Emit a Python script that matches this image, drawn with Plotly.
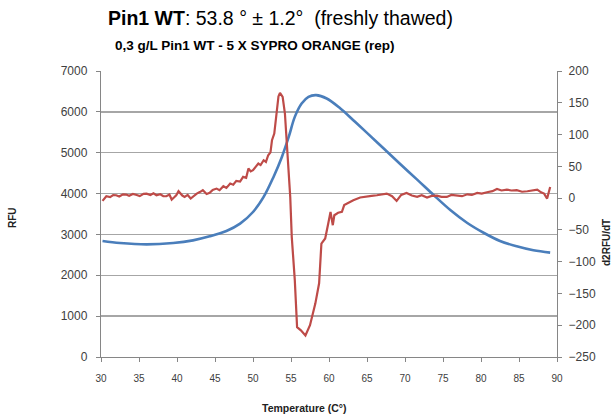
import plotly.graph_objects as go

# Blue curve: RFU (left axis)
rfu_temp = [30.2, 32.5, 36.0, 39.5, 42.1, 44.3, 46.5, 48.3, 50.0, 51.4, 52.7, 53.8, 54.7, 55.5,
            56.4, 57.3, 58.3, 59.7, 61.5, 63.2, 65.0, 67.2, 69.4, 71.6, 73.8, 76.0, 78.2, 80.4,
            82.5, 84.7, 86.9, 89.1]
rfu_vals = [2840, 2790, 2757, 2790, 2855, 2953, 3084, 3264, 3549, 3917, 4407, 4897, 5387, 5877,
            6204, 6368, 6409, 6327, 6082, 5796, 5486, 5102, 4718, 4342, 3958, 3591, 3280, 3035,
            2840, 2709, 2611, 2554]

# Red curve: d2RFU/dT (right axis)
d2_temp = [30.2, 30.5, 30.7, 31.2, 31.6, 32.0, 32.4, 32.9, 33.3, 33.7, 34.2, 34.7, 35.1, 35.6,
           36.0, 36.5, 36.9, 37.3, 37.8, 38.2, 38.6, 39.0, 39.3, 39.6, 39.9, 40.2, 40.4, 40.7,
           41.0, 41.4, 41.8, 42.2, 42.6, 43.0, 43.4, 43.9, 44.3, 44.7, 45.2, 45.6, 46.1, 46.5,
           47.0, 47.4, 47.8, 48.3, 48.7, 49.1, 49.4, 49.7, 50.0, 50.4, 50.7, 51.0, 51.4, 51.7,
           52.0, 52.3, 52.5, 52.8, 53.1, 53.35, 53.55, 53.75, 53.9, 54.2, 54.5, 54.9, 55.1, 55.5,
           55.8, 56.3, 56.9, 57.5, 58.2, 58.7, 59.0, 59.5, 59.9, 60.2, 60.5, 60.7, 61.2, 61.7,
           62.0, 62.4, 63.2, 64.1, 65.0, 65.6, 66.3, 67.0, 67.6, 68.3, 68.9, 69.5, 70.2, 70.9,
           71.6, 72.2, 72.9, 73.5, 74.2, 74.8, 75.5, 76.1, 76.8, 77.5, 78.2, 78.8, 79.5, 80.1,
           80.8, 81.5, 82.1, 82.7, 83.4, 84.0, 84.7, 85.4, 86.1, 86.7, 87.4, 87.9, 88.3, 88.7,
           89.1]
d2_vals = [-4.4, 1.0, 2.9, 1.5, 4.8, 4.5, 2.5, 6.0, 5.6, 3.8, 6.5, 5.0, 3.2, 6.8,
           7.1, 5.0, 7.5, 4.5, 6.0, 2.9, 2.9, 5.5, -2.3, 1.0, 4.5, 10.8, 8.0, 4.0,
           1.9, 5.0, -0.7, 4.0, 7.1, 9.5, 12.4, 6.5, 8.2, 13.0, 15.0, 12.5, 18.7, 16.0,
           22.9, 21.0, 27.1, 26.0, 33.4, 32.0, 46.5, 42.0, 43.9, 50.0, 54.4, 52.0, 59.6, 57.0,
           67.5, 72.0, 91.1, 101.6, 138.3, 160.0, 165.6, 163.0, 159.3, 133.1, 80.6, 1.9, -61.0, -129.0,
           -203.0, -208.0, -216.0, -200.0, -166.0, -134.0, -71.5, -63.6, -40.0, -21.6, -42.6, -26.9, -23.0, -21.6,
           -11.0, -8.5, -3.3, 1.0, 1.9, 3.5, 4.5, 6.0, 7.1, 3.0, -4.4, 5.0, 8.2, 4.0,
           1.9, 4.5, 0.8, 3.5, 4.0, 2.0, 1.9, 5.0, 4.5, 3.0, 6.0, 5.0, 8.2, 7.0,
           9.2, 11.0, 14.5, 12.0, 13.4, 12.0, 12.4, 10.0, 10.8, 12.5, 13.4, 9.0, 7.1, -0.7,
           17.6]

x_ticks = list(range(30, 95, 5))

BLUE = "#4A7EBB"
RED = "#BE4B48"
GRID = "#A6A6A6"
AXIS = "#868686"
FONT = "Liberation Sans, Arial, sans-serif"
YTICKFONT = dict(family=FONT, size=12, color="#404040")
XTICKFONT = dict(family=FONT, size=10, color="#404040")

L, R, T, B = 101, 58, 71, 62
PW = 615 - L - R
PH = 419 - T - B

fig = go.Figure()
fig.add_trace(go.Scatter(x=rfu_temp, y=rfu_vals, mode="lines", line=dict(color=BLUE, width=2.6, shape="spline"),
                         yaxis="y", showlegend=False, hoverinfo="skip"))
fig.add_trace(go.Scatter(x=d2_temp, y=d2_vals, mode="lines", line=dict(color=RED, width=2.2),
                         yaxis="y2", showlegend=False, hoverinfo="skip"))

fig.update_layout(
    width=615, height=419,
    margin=dict(l=L, r=R, t=T, b=B, autoexpand=False),
    paper_bgcolor="white", plot_bgcolor="white",
    xaxis=dict(range=[30, 90], tickvals=x_ticks, showgrid=False, showline=True, linecolor=AXIS, linewidth=1.2,
               ticks="outside", ticklen=4, tickcolor=AXIS, tickfont=XTICKFONT, zeroline=False, automargin=False,
               ticklabelstandoff=8),
    yaxis=dict(range=[0, 7000], dtick=1000, showgrid=True, gridcolor=GRID, gridwidth=1.3, showline=True,
               linecolor=AXIS, linewidth=1.2, ticks="outside", ticklen=4, tickcolor=AXIS, tickfont=YTICKFONT,
               zeroline=False, automargin=False, ticklabelstandoff=6),
    yaxis2=dict(range=[-250, 200], dtick=50, overlaying="y", side="right", showgrid=False, showline=True,
                linecolor=AXIS, linewidth=1.2, ticks="outside", ticklen=4, tickcolor=AXIS, tickfont=YTICKFONT,
                zeroline=False, automargin=False, ticklabelstandoff=4),
)

def px(xp):
    return (xp - L) / PW

def py(yp):
    return 1 - (yp - T) / PH

fig.add_annotation(xref="paper", yref="paper", x=px(280), y=py(18),
                   text="<b>Pin1 WT</b>: 53.8 ° ± 1.2°\u00a0\u00a0(freshly thawed)", showarrow=False,
                   font=dict(family=FONT, size=19.5, color="black"), xanchor="center", yanchor="middle")
fig.add_annotation(xref="paper", yref="paper", x=px(113), y=py(45),
                   text="<b>0,3 g/L Pin1 WT - 5 X SYPRO ORANGE (rep)</b>", showarrow=False,
                   font=dict(family=FONT, size=13.5, color="black"), xanchor="left", yanchor="middle")
fig.add_annotation(xref="paper", yref="paper", x=px(304), y=py(408),
                   text="<b>Temperature (C°)</b>", showarrow=False,
                   font=dict(family=FONT, size=10.5, color="#222"), xanchor="center", yanchor="middle")
fig.add_annotation(xref="paper", yref="paper", x=px(12), y=py(218),
                   text="<b>RFU</b>", showarrow=False, textangle=-90,
                   font=dict(family=FONT, size=10, color="#222"), xanchor="center", yanchor="middle")
fig.add_annotation(xref="paper", yref="paper", x=px(606), y=py(243),
                   text="<b>d2RFU/dT</b>", showarrow=False, textangle=-90,
                   font=dict(family=FONT, size=10, color="#222"), xanchor="center", yanchor="middle")

fig.write_html("out.html", config={"displayModeBar": False, "staticPlot": True},
               post_script="document.body.style.margin='0px';document.body.style.padding='0px';")
